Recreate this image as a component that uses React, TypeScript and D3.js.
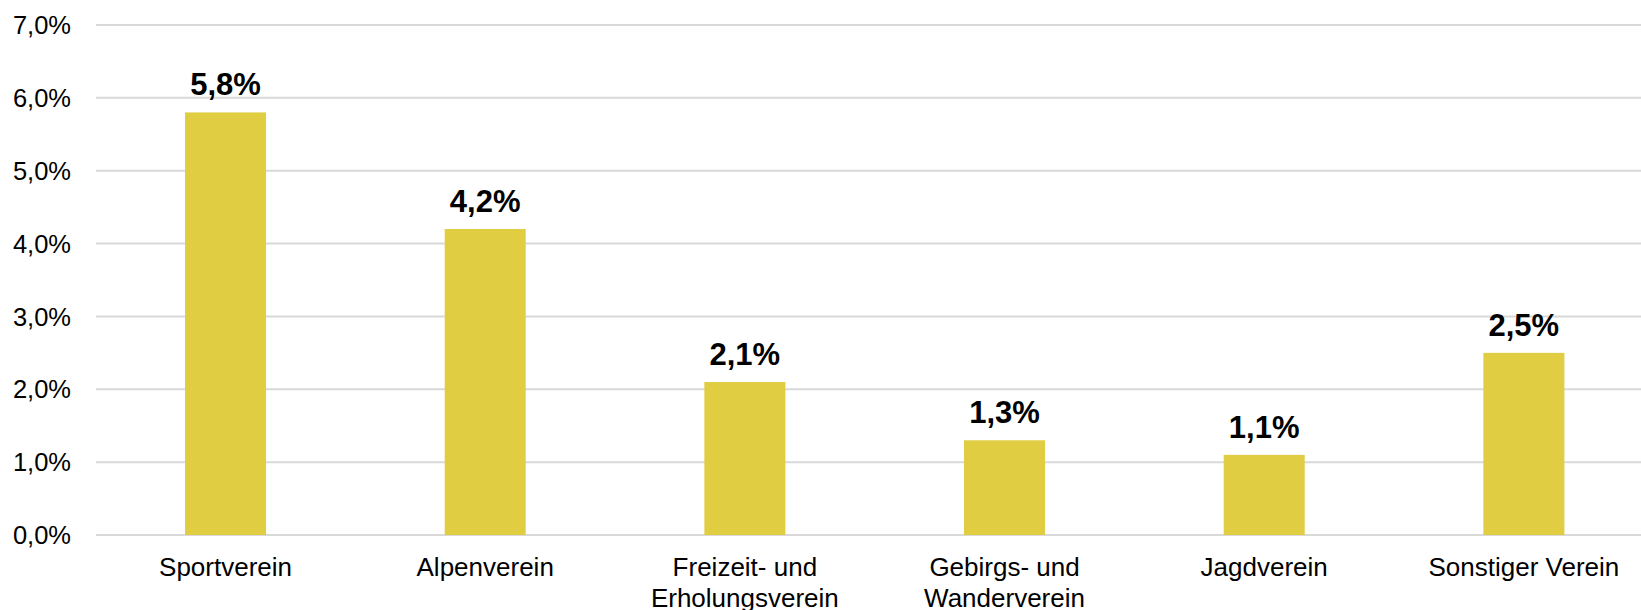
import React from "react";
import * as d3 from "d3";

const categories: string[][] = [
  ["Sportverein"],
  ["Alpenverein"],
  ["Freizeit- und", "Erholungsverein"],
  ["Gebirgs- und", "Wanderverein"],
  ["Jagdverein"],
  ["Sonstiger Verein"],
];
const values: number[] = [5.8, 4.2, 2.1, 1.3, 1.1, 2.5];
const yTicks: number[] = [0, 1, 2, 3, 4, 5, 6, 7];

const W = 1641;
const H = 610;
const FONT = "'Liberation Sans', Arial, sans-serif";

const fmt = (v: number) => v.toFixed(1).replace(".", ",") + "%";

export default function App() {
  const x = d3
    .scaleBand<number>()
    .domain(d3.range(categories.length))
    .range([95.7, 1653.7])
    .paddingInner(0.688)
    .paddingOuter(0.344);
  const y = d3.scaleLinear().domain([0, 7]).range([535, 25]);

  return (
    <svg
      width={W}
      height={H}
      style={{ position: "fixed", left: 0, top: 0, background: "#fff" }}
      fontFamily={FONT}
    >
      <rect x={0} y={0} width={W} height={H} fill="#fff" />
      {yTicks.map((t) => (
        <g key={t}>
          <line x1={96} x2={W} y1={y(t)} y2={y(t)} stroke="#D9D9D9" strokeWidth={2} />
          <text x={71} y={y(t)} dy="0.36em" textAnchor="end" fontSize={25.5} fill="#000">
            {fmt(t)}
          </text>
        </g>
      ))}
      {values.map((v, i) => {
        const bx = x(i)!;
        const bw = x.bandwidth();
        return (
          <g key={i}>
            <rect x={bx} y={y(v)} width={bw} height={y(0) - y(v)} fill="#E0CD42" />
            <text
              x={bx + bw / 2}
              y={y(v) - 17}
              textAnchor="middle"
              fontSize={31}
              fontWeight="bold"
              fill="#000"
            >
              {fmt(v)}
            </text>
            {categories[i].map((line, j) => (
              <text
                key={j}
                x={bx + bw / 2}
                y={575.5 + j * 31}
                textAnchor="middle"
                fontSize={26}
                fill="#000"
              >
                {line}
              </text>
            ))}
          </g>
        );
      })}
    </svg>
  );
}
